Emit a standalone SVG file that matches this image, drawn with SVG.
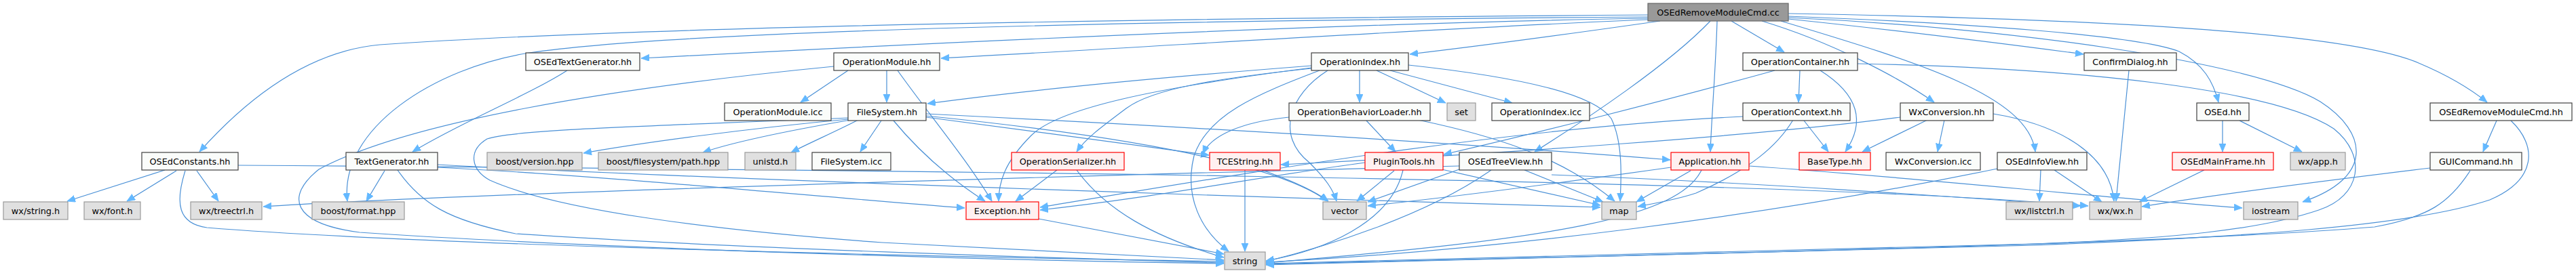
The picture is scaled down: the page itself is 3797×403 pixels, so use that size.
<svg xmlns="http://www.w3.org/2000/svg" width="3797" height="403" viewBox="0 0 3797 403">
<defs>
<marker id="ah" markerUnits="userSpaceOnUse" markerWidth="13" markerHeight="11" refX="12" refY="5" orient="auto">
<path d="M0,0 L12,5 L0,10 z" fill="#63b8ff" stroke="#63b8ff" stroke-width="0.8"/>
</marker>
<style>
.n rect{fill:#fafcfa;stroke:#404040;stroke-width:1.2}
.g rect{fill:#e0e0e0;stroke:#999999;stroke-width:1.2}
.r rect{fill:#fff0f0;stroke:#ff0000;stroke-width:1.2}
.t rect{fill:#999999;stroke:#666666;stroke-width:1.2}
text{font-family:"DejaVu Sans","Liberation Sans",sans-serif;font-size:12.8px;fill:#000;text-anchor:middle}
#edges path{fill:none;stroke:#4a90d6;stroke-width:1.2;marker-end:url(#ah)}
</style>
</defs>
<rect width="3797" height="403" fill="#ffffff"/>
<g id="edges">
<path d="M2429,22 C1600,28 900,42 560,66 C450,76 360,150 294,224"/>
<path d="M2429,25 C1700,30 1000,45 780,78 C640,100 500,190 512,297"/>
<path d="M2429,27 C2000,34 1400,62 945,86"/>
<path d="M2429,29 C2150,40 1750,66 1387,86"/>
<path d="M2447,31 C2300,52 2180,68 2078,80"/>
<path d="M2521,31 C2460,95 2340,175 2262,224"/>
<path d="M2531,31 C2529,100 2523,170 2521,224"/>
<path d="M2552,31 L2630,77"/>
<path d="M2597,31 C2700,62 2800,115 2851,151"/>
<path d="M2625,31 C2820,90 2990,140 3000,224"/>
<path d="M2636,28 C2800,45 2950,64 3071,80"/>
<path d="M2636,24 C2900,34 3150,52 3212,76 C3248,95 3262,120 3270,151"/>
<path d="M2636,20 C3100,28 3460,48 3565,93 C3610,112 3640,130 3666,151"/>
<path d="M2636,26 C2950,40 3320,90 3420,150 C3490,195 3500,262 3394,298"/>
<path d="M836,104 C780,140 680,180 608,224"/>
<path d="M243,251 L99,297"/>
<path d="M260,252 L187,297"/>
<path d="M290,252 L322,297"/>
<path d="M273,252 C258,300 262,330 305,336 C600,360 1300,378 1804,386"/>
<path d="M351,244 C1200,250 2600,262 3078,304"/>
<path d="M567,252 L540,297"/>
<path d="M586,251 C620,300 660,325 760,345 C1100,368 1600,382 1804,388"/>
<path d="M645,243 C1000,262 1800,290 2359,306"/>
<path d="M645,247 C900,260 1200,290 1422,307"/>
<path d="M1250,104 L1180,151"/>
<path d="M1307,104 L1307,151"/>
<path d="M1323,104 C1370,170 1425,235 1462,297"/>
<path d="M1229,98 C900,130 600,180 470,250 C420,290 430,330 530,343 C900,368 1500,385 1804,389"/>
<path d="M1250,176 C1100,190 950,210 860,226"/>
<path d="M1254,177 C1150,195 1080,210 1036,225"/>
<path d="M1265,177 C1230,195 1195,210 1166,225"/>
<path d="M1299,178 L1268,224"/>
<path d="M1317,178 C1360,230 1410,270 1452,297"/>
<path d="M1250,174 C1000,185 760,190 718,205 C690,222 693,250 722,266 C820,310 1050,340 1300,358 C1550,372 1700,380 1804,384"/>
<path d="M1365,173 C1500,190 1650,212 1782,229"/>
<path d="M1365,168 C1800,190 2200,215 2462,236"/>
<path d="M1365,171 C1650,200 1880,240 1957,297"/>
<path d="M1558,251 L1497,297"/>
<path d="M1587,251 C1630,310 1700,350 1804,380"/>
<path d="M1835,251 L1835,371"/>
<path d="M1860,251 C1900,265 1935,280 1958,297"/>
<path d="M1531,323 L1804,375"/>
<path d="M2004,104 L2004,151"/>
<path d="M2029,104 L2131,152"/>
<path d="M2049,104 L2229,152"/>
<path d="M2076,96 C2250,115 2350,140 2375,175 C2392,210 2390,260 2388,297"/>
<path d="M1957,104 C1900,140 1880,200 1930,240 C1955,265 1965,280 1970,297"/>
<path d="M1933,97 C1700,115 1500,135 1367,153"/>
<path d="M1933,100 C1700,130 1560,160 1520,200 C1480,240 1472,270 1472,297"/>
<path d="M1933,101 C1800,115 1700,130 1660,160 C1620,190 1600,205 1587,224"/>
<path d="M1945,104 C1850,140 1780,170 1760,230 C1745,290 1770,340 1811,371"/>
<path d="M2014,178 L2057,224"/>
<path d="M2090,177 C2200,200 2300,230 2380,297"/>
<path d="M1900,173 C1830,180 1785,200 1773,227"/>
<path d="M2055,252 L2000,297"/>
<path d="M2125,250 L2359,303"/>
<path d="M2068,251 C2050,330 1950,370 1866,385"/>
<path d="M2012,240 C1850,262 1700,292 1533,310"/>
<path d="M2151,250 L2016,298"/>
<path d="M2247,251 L2363,298"/>
<path d="M2198,251 C2100,320 1950,365 1866,386"/>
<path d="M2151,245 C1500,262 700,285 388,305"/>
<path d="M2287,258 C2600,270 2900,292 3067,304"/>
<path d="M2492,252 L2412,298"/>
<path d="M2463,247 C2300,270 2150,290 2016,304"/>
<path d="M2508,251 C2475,320 2300,352 1866,388"/>
<path d="M2578,245 C2800,260 3100,292 3305,307"/>
<path d="M2653,104 L2651,151"/>
<path d="M2683,104 C2740,140 2750,180 2720,224"/>
<path d="M2616,104 C2450,150 2250,200 2128,228"/>
<path d="M2738,94 C3050,100 3350,130 3440,190 C3490,230 3480,290 3418,310 C3330,340 3200,352 3000,360 C2500,372 2100,382 1866,389"/>
<path d="M2659,178 L2695,224"/>
<path d="M2643,177 C2620,215 2580,250 2500,285 C2470,295 2440,300 2414,305"/>
<path d="M2569,172 C2200,190 1800,262 1533,306"/>
<path d="M2841,177 L2745,224"/>
<path d="M2866,177 L2856,224"/>
<path d="M2938,168 C3040,185 3110,230 3116,297"/>
<path d="M2801,173 C2600,200 2200,228 1888,243"/>
<path d="M3008,251 L3006,297"/>
<path d="M3028,251 L3098,298"/>
<path d="M2944,249 C2600,320 2200,370 1866,387"/>
<path d="M3138,104 L3119,297"/>
<path d="M3276,177 L3276,224"/>
<path d="M3301,178 L3393,224"/>
<path d="M3249,251 L3153,298"/>
<path d="M3680,178 L3660,224"/>
<path d="M3701,178 C3740,215 3740,265 3670,295 C3550,335 3300,350 3000,362 C2500,375 2100,385 1866,391"/>
<path d="M3582,248 C3400,270 3250,290 3157,305"/>
<path d="M3641,252 C3610,300 3580,320 3500,335 C3200,360 2500,375 1866,390"/>
</g>
<g id="n_top" class="t"><rect x="2429" y="5" width="207" height="26"/><text x="2532.5" y="22.5">OSEdRemoveModuleCmd.cc</text></g>
<g id="n_osedtextgen" class="n"><rect x="775" y="78" width="168" height="26"/><text x="859" y="95.5">OSEdTextGenerator.hh</text></g>
<g id="n_opmodule" class="n"><rect x="1229" y="78" width="156" height="26"/><text x="1307" y="95.5">OperationModule.hh</text></g>
<g id="n_opindex" class="n"><rect x="1933" y="78" width="143" height="26"/><text x="2004.5" y="95.5">OperationIndex.hh</text></g>
<g id="n_opcontainer" class="n"><rect x="2569" y="78" width="169" height="26"/><text x="2653.5" y="95.5">OperationContainer.hh</text></g>
<g id="n_confirm" class="n"><rect x="3072" y="78" width="136" height="26"/><text x="3140" y="95.5">ConfirmDialog.hh</text></g>
<g id="n_opmoduleicc" class="n"><rect x="1068" y="152" width="157" height="26"/><text x="1146.5" y="169.5">OperationModule.icc</text></g>
<g id="n_filesystem" class="n"><rect x="1250" y="152" width="115" height="26"/><text x="1307.5" y="169.5">FileSystem.hh</text></g>
<g id="n_behloader" class="n"><rect x="1900" y="152" width="208" height="26"/><text x="2004" y="169.5">OperationBehaviorLoader.hh</text></g>
<g id="n_set" class="g"><rect x="2133" y="152" width="42" height="26"/><text x="2154" y="169.5">set</text></g>
<g id="n_opindexicc" class="n"><rect x="2199" y="152" width="144" height="26"/><text x="2271" y="169.5">OperationIndex.icc</text></g>
<g id="n_opcontext" class="n"><rect x="2569" y="152" width="158" height="26"/><text x="2648" y="169.5">OperationContext.hh</text></g>
<g id="n_wxconv" class="n"><rect x="2801" y="152" width="137" height="26"/><text x="2869.5" y="169.5">WxConversion.hh</text></g>
<g id="n_osed" class="n"><rect x="3238" y="152" width="77" height="26"/><text x="3276.5" y="169.5">OSEd.hh</text></g>
<g id="n_removehh" class="n"><rect x="3582" y="152" width="209" height="26"/><text x="3686.5" y="169.5">OSEdRemoveModuleCmd.hh</text></g>
<g id="n_constants" class="n"><rect x="209" y="225" width="142" height="26"/><text x="280" y="242.5">OSEdConstants.hh</text></g>
<g id="n_textgen" class="n"><rect x="510" y="225" width="135" height="26"/><text x="577.5" y="242.5">TextGenerator.hh</text></g>
<g id="n_bversion" class="g"><rect x="718" y="225" width="140" height="26"/><text x="788" y="242.5">boost/version.hpp</text></g>
<g id="n_bpath" class="g"><rect x="882" y="225" width="191" height="26"/><text x="977.5" y="242.5">boost/filesystem/path.hpp</text></g>
<g id="n_unistd" class="g"><rect x="1098" y="225" width="75" height="26"/><text x="1135.5" y="242.5">unistd.h</text></g>
<g id="n_fsicc" class="n"><rect x="1197" y="225" width="116" height="26"/><text x="1255" y="242.5">FileSystem.icc</text></g>
<g id="n_opserial" class="r"><rect x="1491" y="225" width="166" height="26"/><text x="1574" y="242.5">OperationSerializer.hh</text></g>
<g id="n_tcestring" class="r"><rect x="1783" y="225" width="104" height="26"/><text x="1835" y="242.5">TCEString.hh</text></g>
<g id="n_plugintools" class="r"><rect x="2012" y="225" width="115" height="26"/><text x="2069.5" y="242.5">PluginTools.hh</text></g>
<g id="n_treeview" class="n"><rect x="2151" y="225" width="136" height="26"/><text x="2219" y="242.5">OSEdTreeView.hh</text></g>
<g id="n_application" class="r"><rect x="2463" y="225" width="115" height="26"/><text x="2520.5" y="242.5">Application.hh</text></g>
<g id="n_basetype" class="r"><rect x="2652" y="225" width="105" height="26"/><text x="2704.5" y="242.5">BaseType.hh</text></g>
<g id="n_wxconvicc" class="n"><rect x="2780" y="225" width="139" height="26"/><text x="2849.5" y="242.5">WxConversion.icc</text></g>
<g id="n_infoview" class="n"><rect x="2944" y="225" width="132" height="26"/><text x="3010" y="242.5">OSEdInfoView.hh</text></g>
<g id="n_mainframe" class="r"><rect x="3202" y="225" width="149" height="26"/><text x="3276.5" y="242.5">OSEdMainFrame.hh</text></g>
<g id="n_wxapp" class="g"><rect x="3376" y="225" width="81" height="26"/><text x="3416.5" y="242.5">wx/app.h</text></g>
<g id="n_guicommand" class="n"><rect x="3582" y="225" width="135" height="26"/><text x="3649.5" y="242.5">GUICommand.hh</text></g>
<g id="n_wxstring" class="g"><rect x="5" y="298" width="95" height="26"/><text x="52.5" y="315.5">wx/string.h</text></g>
<g id="n_wxfont" class="g"><rect x="124" y="298" width="83" height="26"/><text x="165.5" y="315.5">wx/font.h</text></g>
<g id="n_wxtreectrl" class="g"><rect x="281" y="298" width="105" height="26"/><text x="333.5" y="315.5">wx/treectrl.h</text></g>
<g id="n_bformat" class="g"><rect x="460" y="298" width="136" height="26"/><text x="528" y="315.5">boost/format.hpp</text></g>
<g id="n_exception" class="r"><rect x="1424" y="298" width="107" height="26"/><text x="1477.5" y="315.5">Exception.hh</text></g>
<g id="n_vector" class="g"><rect x="1950" y="298" width="64" height="26"/><text x="1982" y="315.5">vector</text></g>
<g id="n_map" class="g"><rect x="2361" y="298" width="51" height="26"/><text x="2386.5" y="315.5">map</text></g>
<g id="n_wxlistctrl" class="g"><rect x="2957" y="298" width="98" height="26"/><text x="3006" y="315.5">wx/listctrl.h</text></g>
<g id="n_wxwx" class="g"><rect x="3080" y="298" width="76" height="26"/><text x="3118" y="315.5">wx/wx.h</text></g>
<g id="n_iostream" class="g"><rect x="3307" y="298" width="80" height="26"/><text x="3347" y="315.5">iostream</text></g>
<g id="n_string" class="g"><rect x="1805" y="372" width="60" height="26"/><text x="1835" y="389.5">string</text></g>
</svg>
